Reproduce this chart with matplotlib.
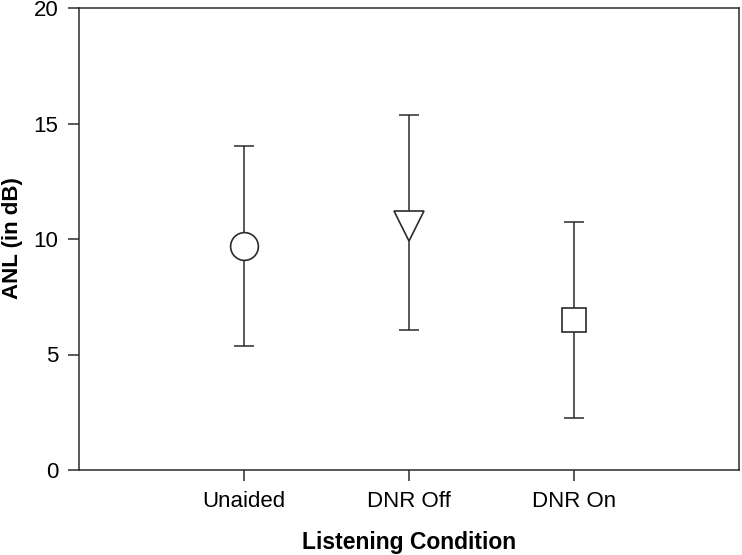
import matplotlib
matplotlib.use('Agg')
import matplotlib.pyplot as plt

plt.rcParams['font.family'] = ['Liberation Sans', 'DejaVu Sans']

conditions = ['Unaided', 'DNR Off', 'DNR On']
means = [9.7, 10.55, 6.5]
upper = [14.03, 15.37, 10.74]
lower = [5.37, 6.06, 2.26]
markers = ['o', 'v', 's']
marker_sizes = [20, 21, 17.5]

col = '#2b2b2b'

fig = plt.figure(figsize=(7.42, 5.55), dpi=100)
ax = fig.add_axes([79 / 742, 85 / 555, 660 / 742, 462 / 555])

xs = [1, 2, 3]
for x, m, hi, lo, mk, ms in zip(xs, means, upper, lower, markers, marker_sizes):
    ax.errorbar([x], [m], yerr=[[m - lo], [hi - m]], fmt='none',
                ecolor=col, elinewidth=1.1, capsize=7, capthick=1.1, zorder=2)
    ax.plot([x], [m], marker=mk, markersize=ms, markerfacecolor='white',
            markeredgecolor=col, markeredgewidth=1.2, linestyle='none', zorder=3)

ax.set_xlim(0, 4)
ax.set_ylim(0, 20)
ax.set_xticks(xs)
ax.set_xticklabels(conditions)
ax.set_yticks([0, 5, 10, 15, 20])

for s in ax.spines.values():
    s.set_color(col)
    s.set_linewidth(1.1)
ax.tick_params(direction='out', length=8, width=1.1, color=col, labelsize=16, pad=7)

# axis titles placed by hand so they stay inside the canvas
fig.text(409 / 742, 1 - 542 / 555, 'Listening Condition', fontsize=16.5,
         fontweight='bold', ha='center', va='center')
fig.text(13 / 742, 1 - 238 / 555, 'ANL (in dB)', fontsize=16,
         fontweight='bold', ha='center', va='center', rotation=90)

fig.savefig('out.png', dpi=100)
